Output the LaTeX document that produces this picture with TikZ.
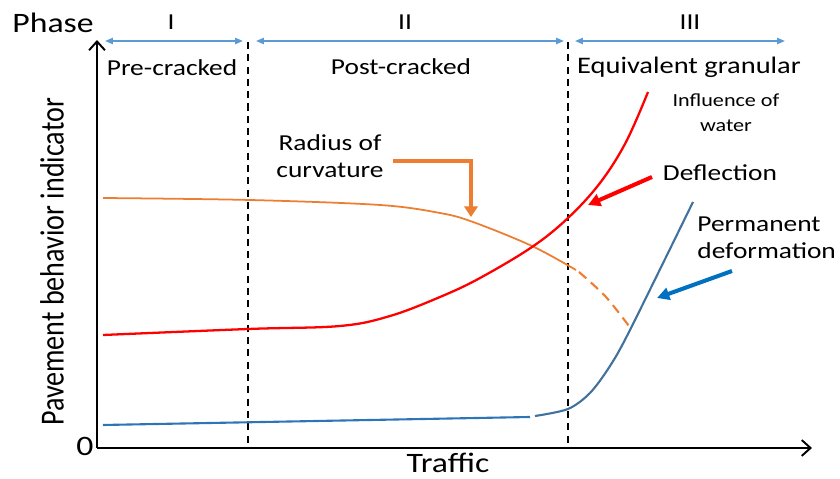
\documentclass[tikz,border=0pt]{standalone}
\usepackage{fontspec}
\setmainfont{Carlito}
\usetikzlibrary{arrows.meta}

\definecolor{phaseblue}{RGB}{91,155,213}
\definecolor{radorange}{RGB}{237,125,49}
\definecolor{pdblue}{RGB}{65,113,156}
\definecolor{pdflat}{RGB}{46,117,182}
\definecolor{calloutblue}{RGB}{0,112,192}

\begin{document}
\begin{tikzpicture}[
  x=0.02cm, y=-0.02cm,
  every node/.style={xscale=1.2, inner sep=0pt},
  bigtxt/.style={font=\fontsize{16}{19}\selectfont},
  midtxt/.style={font=\fontsize{13}{15.3}\selectfont, align=center},
  phasearr/.style={phaseblue, line width=1pt,
    {Triangle[length=4.5pt,width=3.5pt]}-{Triangle[length=4.5pt,width=3.5pt]}},
  bound/.style={line width=1.1pt, dash pattern=on 4pt off 3pt},
  callout/.style={line width=2.3pt, -{Triangle[length=7pt,width=7pt]}},
]
  \useasboundingbox (0,0) rectangle (840,479);

  % 坐标轴
  \coordinate (O) at (97,448);
  \coordinate (ytop) at (97,40);
  \coordinate (xend) at (812,448);
  \draw[line width=1.1pt, -{Straight Barb[length=5pt,width=9pt]}] (O) -- (ytop);
  \draw[line width=1.1pt, -{Straight Barb[length=5pt,width=9pt]}] (O) -- (xend);

  % 阶段分界
  \foreach \bx in {248,568}
    \draw[bound] (\bx,42) -- (\bx,448);
  \draw[phasearr] (105,41) -- (243,41);
  \draw[phasearr] (256,41) -- (564,41);
  \draw[phasearr] (575,41) -- (785,41);

  % 曲率半径
  \draw[radorange, line width=1pt] plot[smooth, tension=0.55] coordinates
    {(103,198) (250,200) (380,205) (440,213) (473,222) (532,246) (576,270)};
  \draw[radorange, line width=1.2pt, dash pattern=on 5.5pt off 3.5pt]
    plot[smooth, tension=0.5] coordinates {(579,272) (606,297) (632,330)};
  % 弯沉
  \draw[red, line width=1.3pt] plot[smooth, tension=0.6] coordinates
    {(103,335) (248,329) (340,326) (390,316) (440,297) (480,278) (532,247)
     (568,218) (600,183) (626,142) (648,92)};
  % 永久变形
  \draw[pdflat, line width=1.2pt] (103,425) -- (530,417);
  \draw[pdblue, line width=1.2pt] plot[smooth, tension=0.5] coordinates
    {(535,416) (568,409) (590,393) (610,366) (630,330) (693,202)};

  \node[bigtxt] (phase) at (53,23) {Phase};
  \node[midtxt] (ph1) at (171,22) {I};
  \node[midtxt] (ph2) at (405,22) {II};
  \node[midtxt] (ph3) at (690,22) {III};
  \node[midtxt] (pre) at (172,68) {Pre-cracked};
  \node[midtxt] (post) at (401,67) {Post-cracked};
  \node[midtxt, font=\fontsize{13.5}{16}\selectfont] (gran) at (689,67) {Equivalent granular};
  \node[align=center, font=\fontsize{10.5}{14}\selectfont] (water) at (726,113) {Influence of\\water};
  \node[midtxt] (radius) at (330,156) {Radius of\\curvature};
  \node[midtxt] (defl) at (720,173) {Deflection};
  \node[midtxt, align=left, anchor=west] (perm) at (697,238) {Permanent\\deformation};
  \node[bigtxt] (zero) at (85,446) {0};
  \node[bigtxt] (traffic) at (448,463) {Traffic};
  \node[bigtxt, rotate=90] (indic) at (52,262) {Pavement behavior indicator};

  % 标注箭头
  \coordinate (rad from) at (393,161);
  \coordinate (rad to) at (471,217);
  \draw[radorange, line width=1.8pt, -{Triangle[length=6pt,width=7.5pt]}]
    (rad from) -| (rad to);
  \coordinate (defl from) at (652,177);
  \coordinate (defl to) at (588,205);
  \draw[callout, red] (defl from) -- (defl to);
  \coordinate (perm from) at (732,271);
  \coordinate (perm to) at (657,298);
  \draw[callout, calloutblue] (perm from) -- (perm to);
\end{tikzpicture}
\end{document}
